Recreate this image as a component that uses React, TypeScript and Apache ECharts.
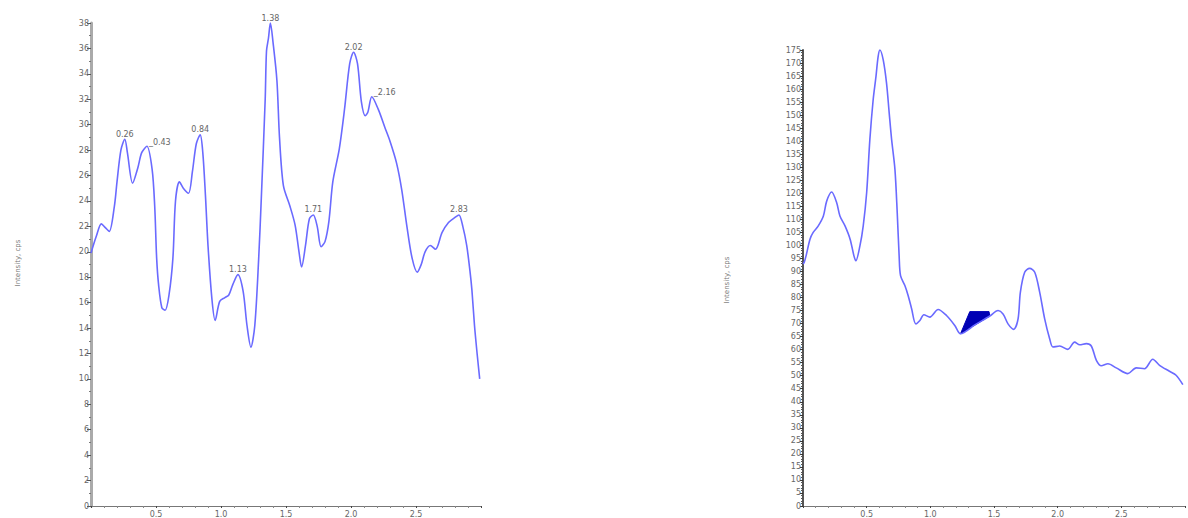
import React, { useEffect, useRef } from "react";
import * as echarts from "echarts";

// Left chromatogram: [retention time, intensity]
const leftSeries: [number, number][] = [
  [0.0, 19.9], [0.04, 21.2], [0.08, 22.2], [0.11, 21.9], [0.14, 21.6], [0.18, 23.6],
  [0.2, 25.5], [0.23, 28.0], [0.26, 28.85], [0.28, 27.8], [0.32, 25.4], [0.36, 26.6],
  [0.39, 27.8], [0.43, 28.3], [0.47, 26.5], [0.49, 23.6], [0.505, 19.5], [0.52, 17.4],
  [0.545, 15.6], [0.57, 15.4], [0.6, 16.6], [0.63, 19.5], [0.65, 24.0], [0.68, 25.5],
  [0.71, 25.0], [0.75, 24.6], [0.78, 26.3], [0.81, 28.5], [0.84, 29.2], [0.86, 27.8],
  [0.88, 24.5], [0.9, 20.5], [0.93, 16.3], [0.955, 14.6], [0.99, 16.1], [1.03, 16.4],
  [1.06, 16.6], [1.09, 17.4], [1.13, 18.2], [1.17, 16.9], [1.2, 14.2], [1.23, 12.5],
  [1.26, 14.2], [1.29, 19.5], [1.31, 24.2], [1.34, 32.0], [1.35, 35.8], [1.365, 36.8],
  [1.38, 38.0], [1.4, 36.5], [1.43, 33.5], [1.45, 29.0], [1.48, 25.2], [1.53, 23.6],
  [1.57, 22.1], [1.6, 20.0], [1.62, 18.8], [1.65, 20.5], [1.68, 22.6], [1.71, 22.9],
  [1.74, 22.0], [1.77, 20.4], [1.8, 20.8], [1.83, 22.4], [1.86, 25.5], [1.91, 28.1],
  [1.95, 31.2], [1.99, 34.8], [2.02, 35.7], [2.05, 34.8], [2.08, 31.8], [2.11, 30.7],
  [2.13, 31.0], [2.16, 32.2], [2.21, 31.2], [2.26, 29.8], [2.3, 28.7], [2.35, 27.0],
  [2.39, 24.9], [2.43, 22.0], [2.47, 19.5], [2.51, 18.4], [2.54, 19.0], [2.57, 20.0],
  [2.61, 20.5], [2.65, 20.2], [2.7, 21.5], [2.75, 22.3], [2.8, 22.7], [2.83, 22.9],
  [2.86, 22.0], [2.89, 20.5], [2.915, 18.5], [2.93, 17.0], [2.95, 14.2], [2.97, 12.0],
  [2.99, 10.0],
];

// Peak labels on the left chart (retention times); side ones drawn to the right
const leftPeaksTop = [0.26, 0.84, 1.13, 1.38, 1.71, 2.02, 2.83];
const leftPeaksSide = [0.43, 2.16];

// Right chromatogram
const rightSeries: [number, number][] = [
  [0.0, 92.9], [0.01, 93.6], [0.024, 96.0], [0.055, 102.4], [0.08, 105.0], [0.12, 107.5],
  [0.16, 111.3], [0.186, 117.0], [0.225, 120.5], [0.264, 116.5], [0.29, 111.3], [0.33, 107.5],
  [0.37, 102.4], [0.4, 96.0], [0.415, 94.1], [0.447, 99.8], [0.473, 107.5], [0.5, 120.3],
  [0.525, 140.6], [0.551, 155.9], [0.573, 164.8], [0.59, 172.5], [0.604, 175.0], [0.63, 171.2],
  [0.656, 162.3], [0.677, 150.8], [0.696, 140.6], [0.722, 129.2], [0.74, 112.6], [0.755, 96.0],
  [0.766, 88.4], [0.8, 84.6], [0.826, 80.7], [0.853, 75.7], [0.886, 69.9], [0.918, 71.2],
  [0.949, 73.4], [0.996, 72.5], [1.061, 75.4], [1.127, 73.1], [1.192, 69.3], [1.237, 66.1],
  [1.35, 69.5], [1.467, 72.9], [1.532, 75.0], [1.571, 73.7], [1.61, 69.9], [1.655, 67.8],
  [1.689, 71.8], [1.707, 82.0], [1.741, 89.7], [1.78, 91.2], [1.82, 89.7], [1.859, 82.0],
  [1.898, 71.8], [1.937, 64.2], [1.963, 61.0], [2.016, 61.4], [2.08, 60.1], [2.133, 62.9],
  [2.173, 61.9], [2.225, 62.3], [2.264, 61.4], [2.304, 55.9], [2.343, 53.8], [2.395, 54.6],
  [2.46, 53.0], [2.551, 50.8], [2.617, 53.0], [2.682, 52.7], [2.747, 56.3], [2.8, 54.0],
  [2.878, 51.7], [2.93, 50.2], [2.983, 46.6],
];

// Integrated area marker on the right chart
const rightArea: [number, number][] = [
  [1.237, 66.1], [1.31, 74.6], [1.461, 74.6], [1.467, 72.9],
];

const yAxisTitle = "Intensity, cps";

const LINE_COLOR = "#6a6aff";
const LABEL_COLOR = "#666";
const FONT = "DejaVu Sans";

function peakY(x: number): number {
  let best = leftSeries[0];
  for (const p of leftSeries) {
    if (Math.abs(p[0] - x) < Math.abs(best[0] - x)) best = p;
  }
  return best[1];
}

export default function App() {
  const ref = useRef<HTMLDivElement>(null);

  useEffect(() => {
    if (!ref.current) return;
    const chart = echarts.init(ref.current, undefined, { renderer: "svg" });

    const xAxisBase = (gridIndex: number) => ({
      gridIndex,
      type: "value",
      min: 0,
      max: 3,
      interval: 0.5,
      axisLine: { show: true, lineStyle: { color: "#777", width: 1 } },
      axisTick: { show: true, length: 2, lineStyle: { color: "#444" } },
      minorTick: { show: true, splitNumber: 5, length: 2, lineStyle: { color: "#888" } },
      splitLine: { show: false },
      axisLabel: {
        fontSize: 8,
        fontFamily: FONT,
        color: LABEL_COLOR,
        margin: 4,
        showMinLabel: false,
        showMaxLabel: false,
        formatter: (v: number) => v.toFixed(1),
      },
    });

    const markTop = leftPeaksTop.map((x) => ({
      coord: [x, peakY(x)],
      value: x.toFixed(2),
      label: { position: "top", distance: 1 },
    }));
    const markSide = leftPeaksSide.map((x) => ({
      coord: [x, peakY(x)],
      value: x.toFixed(2),
      label: { position: "right", distance: 2, offset: [0, -4], formatter: "_{c}" },
    }));

    chart.setOption({
      animation: false,
      backgroundColor: "#fff",
      grid: [
        { left: 91, top: 23, width: 390, height: 486 },
        { left: 803, top: 50, width: 382, height: 458 },
      ],
      xAxis: [xAxisBase(0), xAxisBase(1)],
      yAxis: [
        {
          gridIndex: 0,
          type: "value",
          min: 0,
          max: 38,
          interval: 2,
          axisLine: { show: true, lineStyle: { color: "#aaa", width: 3 } },
          axisTick: { show: true, length: 4, lineStyle: { color: "#555" } },
          minorTick: { show: true, splitNumber: 2, length: 2, lineStyle: { color: "#777" } },
          splitLine: { show: false },
          axisLabel: { fontSize: 8, fontFamily: FONT, color: LABEL_COLOR, margin: 2 },
        },
        {
          gridIndex: 1,
          type: "value",
          min: 0,
          max: 175,
          interval: 5,
          axisLine: { show: true, lineStyle: { color: "#555", width: 2 } },
          axisTick: { show: true, length: 3, lineStyle: { color: "#333" } },
          minorTick: { show: true, splitNumber: 5, length: 2, lineStyle: { color: "#555" } },
          splitLine: { show: false },
          axisLabel: { fontSize: 8, fontFamily: FONT, color: LABEL_COLOR, margin: 2 },
        },
      ],
      graphic: [
        {
          type: "text",
          x: 18,
          y: 263,
          rotation: Math.PI / 2,
          style: {
            text: yAxisTitle,
            fontSize: 7,
            fontFamily: FONT,
            fill: "#777",
            align: "center",
            verticalAlign: "middle",
          },
        },
        {
          type: "text",
          x: 727,
          y: 280,
          rotation: Math.PI / 2,
          style: {
            text: yAxisTitle,
            fontSize: 7,
            fontFamily: FONT,
            fill: "#777",
            align: "center",
            verticalAlign: "middle",
          },
        },
      ],
      series: [
        {
          type: "line",
          xAxisIndex: 0,
          yAxisIndex: 0,
          data: leftSeries,
          smooth: 0.3,
          showSymbol: false,
          clip: false,
          lineStyle: { color: LINE_COLOR, width: 1.6 },
          markPoint: {
            symbol: "circle",
            symbolSize: 0,
            label: {
              show: true,
              fontSize: 8,
              fontFamily: FONT,
              color: LABEL_COLOR,
              formatter: "{c}",
            },
            data: [...markTop, ...markSide],
          },
        },
        {
          type: "line",
          xAxisIndex: 1,
          yAxisIndex: 1,
          data: rightSeries,
          smooth: 0.3,
          showSymbol: false,
          clip: false,
          lineStyle: { color: LINE_COLOR, width: 1.6 },
        },
        {
          type: "custom",
          xAxisIndex: 1,
          yAxisIndex: 1,
          data: rightArea,
          renderItem: (params: any, api: any) => {
            if (params.dataIndex !== 0) return null;
            const pts = rightArea.map((p) => api.coord(p));
            return {
              type: "polygon",
              shape: { points: pts },
              style: { fill: "#0000b4", stroke: "#0000b4", lineWidth: 1 },
            };
          },
        },
      ],
    });

    return () => chart.dispose();
  }, []);

  return (
    <div
      ref={ref}
      style={{ position: "absolute", left: 0, top: 0, width: 1188, height: 518, background: "#fff" }}
    />
  );
}
